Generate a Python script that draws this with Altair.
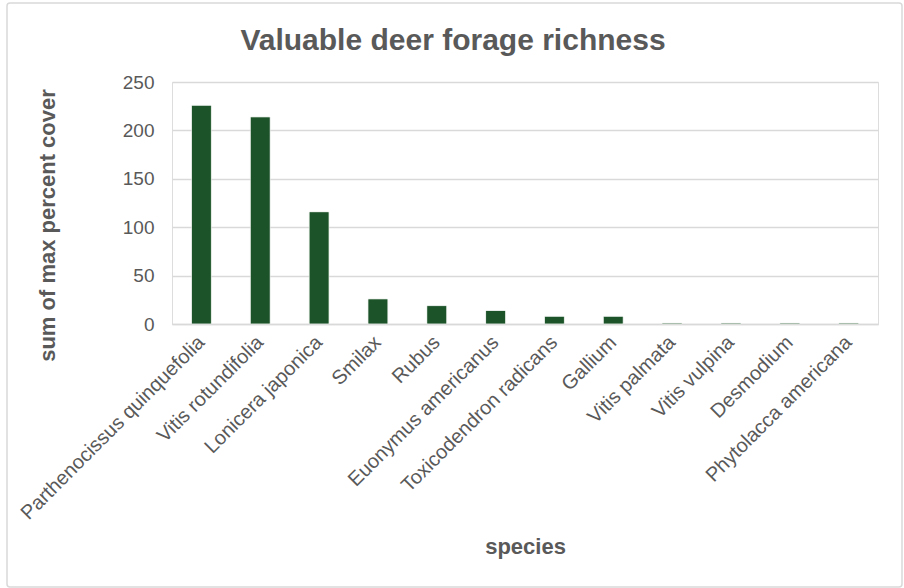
import altair as alt
import pandas as pd

species = [
    "Parthenocissus quinquefolia",
    "Vitis rotundifolia",
    "Lonicera japonica",
    "Smilax",
    "Rubus",
    "Euonymus americanus",
    "Toxicodendron radicans",
    "Gallium",
    "Vitis palmata",
    "Vitis vulpina",
    "Desmodium",
    "Phytolacca americana",
]
cover = [226, 214, 116, 26, 19, 14, 8, 8, 1, 1, 1, 1]
y_ticks = [0, 50, 100, 150, 200, 250]

df = pd.DataFrame({"species": species, "cover": cover})

GRAY = "#595959"
FONT = "Liberation Sans"

bars = alt.Chart(df).mark_bar(
    color="#1c5329", stroke="#e8efe9", strokeWidth=0.5, cornerRadius=1
).encode(
    x=alt.X(
        "species:N",
        sort=species,
        scale=alt.Scale(paddingInner=0.66, paddingOuter=0.33),
        axis=alt.Axis(
            title="species",
            labelAngle=-45,
            labelAlign="right",
            labelBaseline="middle",
            labelPadding=15,
            labelFontSize=20,
            labelColor=GRAY,
            labelFont=FONT,
            ticks=False,
            domainColor="#d9d9d9",
            domainWidth=1.5,
            titleFont=FONT,
            titleFontSize=22,
            titleFontWeight="bold",
            titleColor=GRAY,
            titleY=229,
            titleBaseline="alphabetic",
            labelLimit=400,
        ),
    ),
    y=alt.Y(
        "cover:Q",
        scale=alt.Scale(domain=[0, 250], nice=False),
        axis=alt.Axis(
            title="sum of max percent cover",
            values=y_ticks,
            labelFontSize=19,
            labelColor=GRAY,
            labelFont=FONT,
            labelPadding=18,
            ticks=False,
            domain=False,
            gridColor="#d9d9d9",
            gridWidth=1.5,
            titleFont=FONT,
            titleFontSize=22,
            titleFontWeight="bold",
            titleColor=GRAY,
            titleX=-125,
            titleY=143,
            titleAngle=-90,
            titleBaseline="middle",
            titleAlign="center",
        ),
    ),
)

frame = alt.Chart(pd.DataFrame({"a": [0]})).mark_rect(
    fill="transparent", stroke="#d9d9d9", strokeWidth=1.5, cornerRadius=3, clip=False
).encode(
    x=alt.value(7 - 172),
    x2=alt.value(902 - 172),
    y=alt.value(3 - 82),
    y2=alt.value(587 - 82),
)

chart = alt.layer(frame, bars).properties(
    width=706,
    height=242,
    autosize=alt.AutoSizeParams(type="none"),
    padding={"left": 172, "top": 82, "right": 26, "bottom": 264},
    title=alt.TitleParams(
        "Valuable deer forage richness",
        font=FONT,
        fontSize=30,
        fontWeight="bold",
        color=GRAY,
        anchor="middle",
        baseline="alphabetic",
        dx=-72,
        dy=78,
        offset=0,
    ),
).configure_view(stroke=None).configure(background="white")

chart.save("out.html", embed_options={"renderer": "svg", "actions": False})
